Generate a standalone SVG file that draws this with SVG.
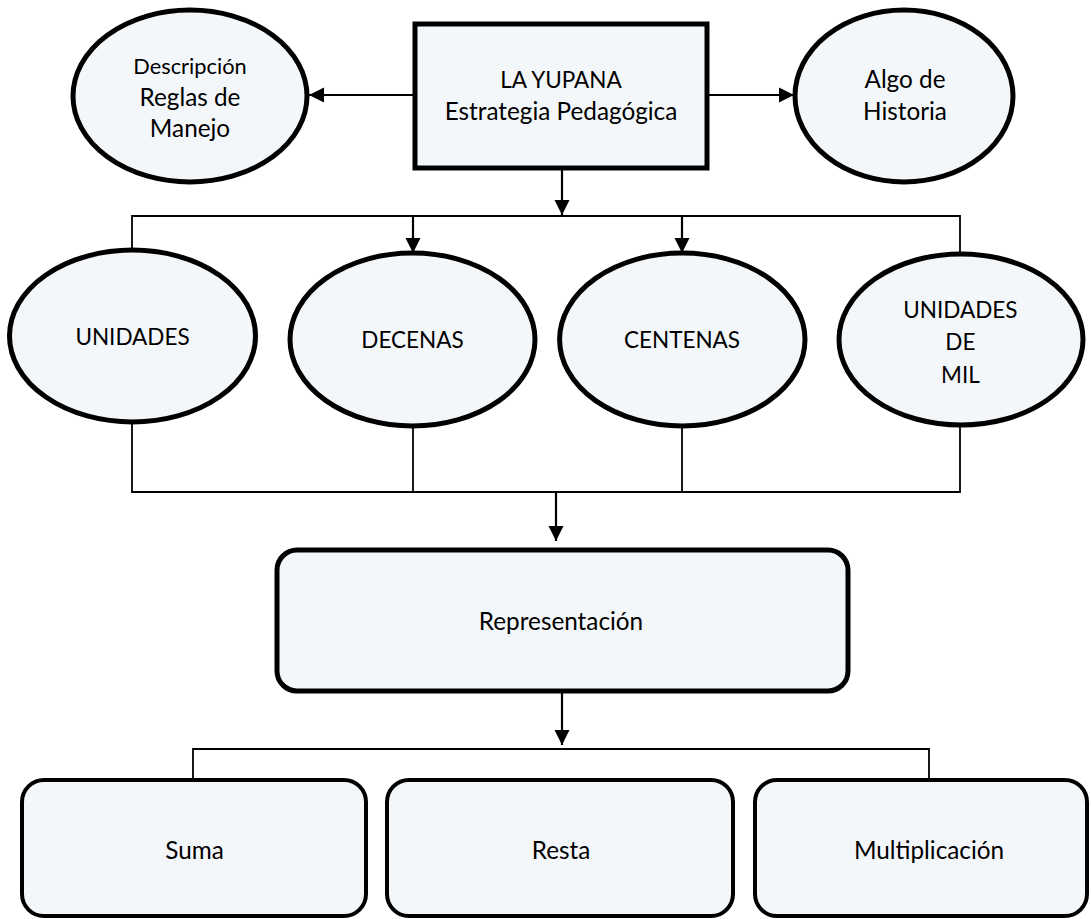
<svg xmlns="http://www.w3.org/2000/svg" width="1091" height="919" viewBox="0 0 1091 919">
<defs>
<style>
.node{fill:#f4f7fa;stroke:#000;stroke-width:5}
.thin{fill:#f4f7fa;stroke:#000;stroke-width:4}
.lbl{font-family:Lato,"Liberation Sans",sans-serif;font-size:24.3px;fill:#000;text-anchor:middle}
.caps{font-size:22.5px}
.small{font-size:21.8px}
.line{fill:none;stroke:#000;stroke-width:1.8}
.arr{fill:none;stroke:#000;stroke-width:2.2;marker-end:url(#ah)}
</style>
<marker id="ah" viewBox="0 0 10 10" refX="10" refY="5" markerWidth="7" markerHeight="7.5" markerUnits="strokeWidth" orient="auto">
<path d="M0,0 L10,5 L0,10 z" fill="#000"/>
</marker>
</defs>
<rect width="1091" height="919" fill="#fff"/>
<g id="connectors">
<line class="arr" x1="415" y1="95" x2="309" y2="95"/>
<line class="arr" x1="707" y1="95" x2="794" y2="95"/>
<line class="arr" x1="562" y1="168" x2="562" y2="215"/>
<polyline class="line" points="132,250 132,216 960,216 960,254"/>
<line class="arr" x1="413" y1="216" x2="413" y2="253"/>
<line class="arr" x1="682" y1="216" x2="682" y2="253"/>
<polyline class="line" points="132,422 132,492 960,492 960,425"/>
<line class="line" x1="413" y1="426" x2="413" y2="492"/>
<line class="line" x1="682" y1="426" x2="682" y2="492"/>
<line class="arr" x1="556" y1="492" x2="556" y2="541"/>
<line class="arr" x1="562" y1="691" x2="562" y2="745"/>
<polyline class="line" points="193,780 193,749 929,749 929,780"/>
</g>
<g id="n-descripcion">
<ellipse class="node" cx="190" cy="96" rx="117" ry="86"/>
<text class="lbl small" x="190" y="74">Descripción</text>
<text class="lbl" x="190" y="106">Reglas de</text>
<text class="lbl" x="190" y="137">Manejo</text>
</g>
<g id="n-yupana">
<rect class="node" x="415" y="24" width="292" height="144"/>
<text class="lbl caps" x="561" y="88">LA YUPANA</text>
<text class="lbl" x="561" y="120">Estrategia Pedagógica</text>
</g>
<g id="n-historia">
<ellipse class="node" cx="904" cy="96" rx="109" ry="86"/>
<text class="lbl" x="905" y="88">Algo de</text>
<text class="lbl" x="905" y="120">Historia</text>
</g>
<g id="n-unidades">
<ellipse class="node" cx="132.5" cy="336" rx="123" ry="86"/>
<text class="lbl caps" x="132.5" y="345">UNIDADES</text>
</g>
<g id="n-decenas">
<ellipse class="node" cx="412.5" cy="339.5" rx="122.5" ry="86.5"/>
<text class="lbl caps" x="412.5" y="348">DECENAS</text>
</g>
<g id="n-centenas">
<ellipse class="node" cx="682.3" cy="339.5" rx="122.7" ry="86.5"/>
<text class="lbl caps" x="682" y="348">CENTENAS</text>
</g>
<g id="n-mil">
<ellipse class="node" cx="961" cy="339.5" rx="122" ry="85.5"/>
<text class="lbl caps" x="960.4" y="318">UNIDADES</text>
<text class="lbl caps" x="960.4" y="350">DE</text>
<text class="lbl caps" x="960.4" y="383">MIL</text>
</g>
<g id="n-representacion">
<rect class="node" x="277" y="550" width="571" height="141" rx="20" ry="20"/>
<text class="lbl" x="561" y="630">Representación</text>
</g>
<g id="n-suma">
<rect class="thin" x="22" y="780" width="344" height="136" rx="22" ry="22"/>
<text class="lbl" x="194.5" y="859">Suma</text>
</g>
<g id="n-resta">
<rect class="thin" x="387" y="780" width="346" height="136" rx="22" ry="22"/>
<text class="lbl" x="561" y="859">Resta</text>
</g>
<g id="n-multiplicacion">
<rect class="thin" x="755" y="780" width="332" height="136" rx="22" ry="22"/>
<text class="lbl" x="929" y="859">Multiplicación</text>
</g>
</svg>
